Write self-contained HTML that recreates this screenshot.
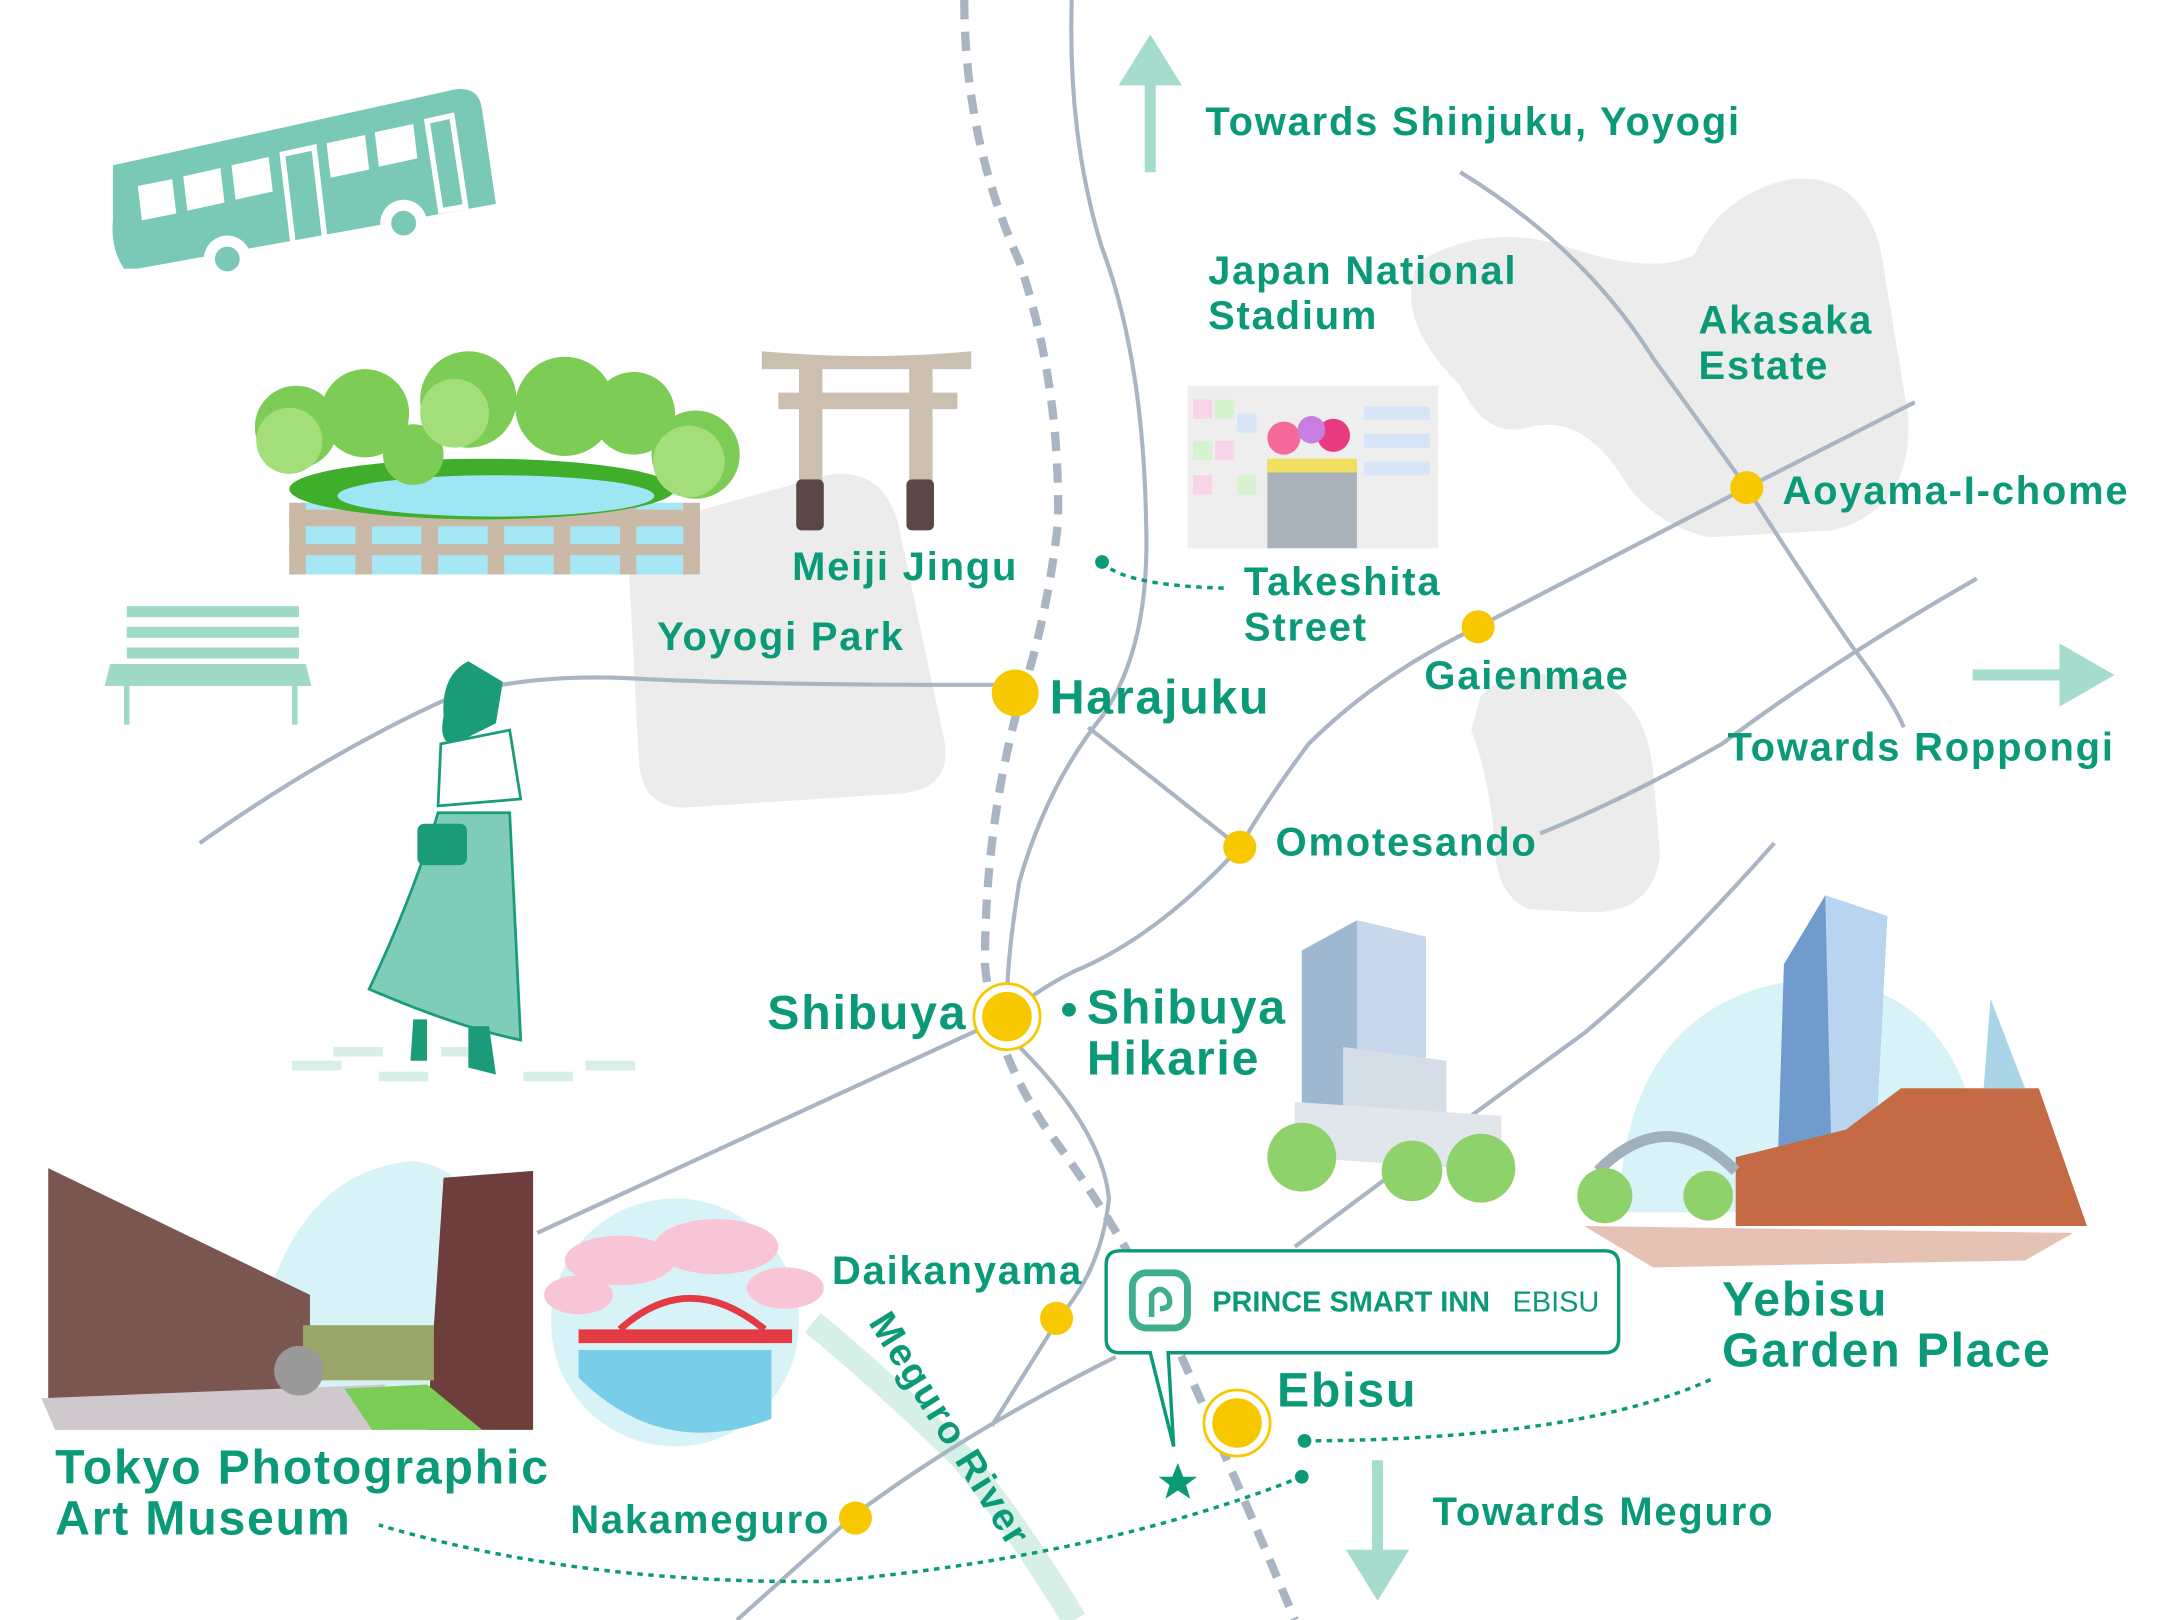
<!DOCTYPE html>
<html><head><meta charset="utf-8"><style>
html,body{margin:0;padding:0;background:#fff}
svg{display:block}
text{font-family:"Liberation Sans",sans-serif;font-weight:bold;fill:#0b9a78;letter-spacing:1.3px}
</style></head><body>
<svg width="2160" height="1620" viewBox="0 0 1568 1176" xmlns="http://www.w3.org/2000/svg">
<rect width="1568" height="1176" fill="#fff"/>
<g fill="#ececec">
<path d="M455 385 L600 345 Q640 338 652 380 L686 540 Q690 572 655 576 L500 586 Q468 588 464 556 Z"/>
<path d="M1030 190 Q1080 160 1140 180 Q1200 200 1230 185 Q1250 140 1300 130 Q1350 125 1365 180 L1385 300 Q1390 370 1330 385 L1240 390 Q1200 380 1180 350 Q1150 300 1110 310 Q1080 320 1060 280 Q1010 230 1030 190 Z"/>
<path d="M1075 505 Q1100 480 1160 495 Q1195 510 1200 560 L1205 620 Q1200 665 1150 662 L1110 660 Q1085 650 1085 610 Q1080 560 1068 530 Z"/>
</g>
<path d="M590 960 Q650 1010 700 1060 Q740 1110 780 1176" fill="none" stroke="#d6efe7" stroke-width="18"/>
<g fill="none" stroke="#aab5c4" stroke-width="3">
<path d="M778 0 Q775 100 800 180 Q830 260 832 380 Q835 470 800 520 Q760 570 740 640 Q730 700 731 738"/>
<path d="M145 612 Q240 545 330 505 Q380 490 450 492 Q560 498 737 497"/>
<path d="M790 528 L900 615"/>
<path d="M900 615 Q840 680 780 705 Q750 720 731 738"/>
<path d="M731 738 L390 895"/>
<path d="M1390 292 L1268 354 L1073 455 Q1000 490 950 540 Q920 580 900 615"/>
<path d="M1060 125 Q1150 180 1200 260 L1268 354 Q1310 420 1345 470 Q1375 510 1382 528"/>
<path d="M1118 605 Q1180 580 1250 540 Q1330 480 1435 420"/>
<path d="M1288 612 Q1210 700 1150 750 Q1040 830 940 905"/>
<path d="M740 760 Q800 820 805 870 Q800 920 770 955 L720 1035"/>
<path d="M810 985 Q700 1040 620 1100 L535 1176"/>
</g>
<path d="M700 0 Q700 100 740 190 Q770 280 768 380 Q760 450 740 510 Q715 600 715 700 Q720 760 760 820 Q820 900 860 990 Q900 1080 940 1176" fill="none" stroke="#aab5c4" stroke-width="6" stroke-dasharray="14 9"/>
<g fill="none" stroke="#0b9a78" stroke-width="2.5" stroke-dasharray="4 4">
<path d="M800 408 Q815 425 890 427"/>
<path d="M947 1046 Q1150 1045 1245 1000"/>
<path d="M945 1072 Q800 1130 600 1148 Q420 1150 275 1107"/>
</g>
<g fill="#0b9a78"><circle cx="800" cy="408" r="5"/><circle cx="947" cy="1046" r="5"/><circle cx="945" cy="1072" r="5"/><circle cx="776" cy="733" r="5"/></g>
<g fill="#f7c800">
<circle cx="737" cy="503" r="17"/>
<circle cx="900" cy="615" r="12"/><circle cx="1073" cy="455" r="12"/><circle cx="1268" cy="354" r="12"/>
<circle cx="767" cy="957" r="12"/><circle cx="621" cy="1102" r="12"/>
<circle cx="731" cy="738" r="24" fill="#fff" stroke="#f7c800" stroke-width="2"/><circle cx="731" cy="738" r="18"/>
<circle cx="898" cy="1033" r="24" fill="#fff" stroke="#f7c800" stroke-width="2"/><circle cx="898" cy="1033" r="18"/>
</g>
<g fill="#a5dccd" stroke="#a5dccd">
<line x1="835" y1="125" x2="835" y2="50" stroke-width="8"/><path d="M812 62 L835 25 L858 62 Z" stroke="none"/>
<line x1="1432" y1="490" x2="1510" y2="490" stroke-width="8"/><path d="M1495 467 L1535 490 L1495 513 Z" stroke="none"/>
<line x1="1000" y1="1060" x2="1000" y2="1140" stroke-width="8"/><path d="M977 1125 L1000 1162 L1023 1125 Z" stroke="none"/>
</g>
<path d="M813 908 H1165 Q1175 908 1175 918 V972 Q1175 982 1165 982 H848 L852 1050 L835 982 H813 Q803 982 803 972 V918 Q803 908 813 908 Z" fill="#fff" stroke="#0b9a78" stroke-width="2.5"/>
<rect x="822" y="924" width="40" height="40" rx="10" fill="none" stroke="#3fae8e" stroke-width="5"/>
<path d="M836 956 V940 Q842 932 848 940 Q852 950 842 950" fill="none" stroke="#3fae8e" stroke-width="4"/>
<text x="880" y="952" font-size="21" style="letter-spacing:0">PRINCE SMART INN</text>
<text x="1098" y="952" font-size="21" style="font-weight:normal;letter-spacing:0">EBISU</text>
<path d="M855 1062 L859 1072 L869 1072 L861 1078 L864 1088 L855 1082 L846 1088 L849 1078 L841 1072 L851 1072 Z" fill="#0b9a78"/>
<g>
<path d="M82 120 L330 65 Q348 62 350 80 L360 148 L100 195 L90 195 Q80 180 82 160 Z" fill="#79c9b6"/>
<g fill="#fff"><path d="M100 135 L125 130 L128 155 L103 160Z"/><path d="M133 128 L160 122 L163 147 L136 153Z"/><path d="M168 120 L195 114 L198 139 L171 145Z"/><path d="M237 104 L265 98 L268 123 L240 129Z"/><path d="M272 96 L300 90 L303 115 L275 121Z"/><path d="M205 112 L228 107 L236 175 L213 179Z" fill="none" stroke="#fff" stroke-width="4"/><path d="M310 88 L328 84 L338 150 L320 153Z" fill="none" stroke="#fff" stroke-width="4"/></g>
<circle cx="165" cy="188" r="17" fill="#fff"/><circle cx="165" cy="188" r="9" fill="#79c9b6"/>
<circle cx="293" cy="162" r="17" fill="#fff"/><circle cx="293" cy="162" r="9" fill="#79c9b6"/>
</g>
<g>
<rect x="210" y="365" width="298" height="52" fill="#a6e7f6"/>
<g fill="#c9b9a6"><rect x="210" y="370" width="298" height="12"/><rect x="210" y="395" width="298" height="8"/>
<rect x="210" y="365" width="12" height="52"/><rect x="258" y="365" width="12" height="52"/><rect x="306" y="365" width="12" height="52"/><rect x="354" y="365" width="12" height="52"/><rect x="402" y="365" width="12" height="52"/><rect x="450" y="365" width="12" height="52"/><rect x="496" y="365" width="12" height="52"/></g>
<ellipse cx="350" cy="355" rx="140" ry="22" fill="#3fae2b"/><ellipse cx="360" cy="360" rx="115" ry="15" fill="#9fe6f5"/>
<g fill="#7dcc55"><circle cx="215" cy="310" r="30"/><circle cx="265" cy="300" r="32"/><circle cx="340" cy="290" r="35"/><circle cx="410" cy="295" r="36"/><circle cx="460" cy="300" r="30"/><circle cx="505" cy="330" r="32"/><circle cx="300" cy="330" r="22"/></g>
<g fill="#a4de7a"><circle cx="210" cy="320" r="24"/><circle cx="500" cy="335" r="26"/><circle cx="330" cy="300" r="25"/></g>
</g>
<g><path d="M553 255 Q630 262 705 255 L705 268 L553 268 Z" fill="#cbbfb0"/><rect x="565" y="285" width="130" height="12" fill="#cbbfb0"/>
<rect x="580" y="265" width="17" height="85" fill="#cbbfb0"/><rect x="660" y="265" width="17" height="85" fill="#cbbfb0"/>
<rect x="578" y="348" width="20" height="37" rx="4" fill="#5a4746"/><rect x="658" y="348" width="20" height="37" rx="4" fill="#5a4746"/></g>
<g fill="#9fd9c8"><rect x="92" y="440" width="125" height="8"/><rect x="92" y="455" width="125" height="8"/><rect x="92" y="470" width="125" height="8"/>
<path d="M80 482 H222 L226 498 H76Z"/><rect x="90" y="498" width="4" height="28"/><rect x="212" y="498" width="4" height="28"/></g>
<g>
<g fill="#d6efe8"><rect x="212" y="770" width="36" height="7"/><rect x="242" y="760" width="36" height="7"/><rect x="275" y="778" width="36" height="7"/><rect x="380" y="778" width="36" height="7"/><rect x="425" y="770" width="36" height="7"/><rect x="320" y="760" width="36" height="7"/></g>
<path d="M340 480 Q320 490 322 520 Q318 540 330 540 L360 525 L365 495 Z" fill="#1a9c78"/>
<path d="M320 540 L370 530 L378 580 L318 585 Z" fill="#fff" stroke="#1a9c78" stroke-width="2"/>
<path d="M318 590 L370 590 L378 755 Q330 745 268 718 Q300 650 318 590Z" fill="#7fcdb9" stroke="#1a9c78" stroke-width="2"/>
<rect x="303" y="598" width="36" height="30" rx="5" fill="#1a9c78"/>
<path d="M300 740 L298 770 L310 770 L310 740 M340 745 L340 775 L360 780 L355 745" fill="#1a9c78"/>
</g>
<g><rect x="862" y="280" width="182" height="118" fill="#eeeeee"/>
<g fill="#f7d4e8"><rect x="866" y="290" width="14" height="14"/><rect x="882" y="320" width="14" height="14"/><rect x="866" y="345" width="14" height="14"/></g>
<g fill="#d6f2ce"><rect x="882" y="290" width="14" height="14"/><rect x="866" y="320" width="14" height="14"/><rect x="898" y="345" width="14" height="14"/></g>
<g fill="#d6e6f7"><rect x="898" y="300" width="14" height="14"/><rect x="990" y="295" width="48" height="10"/><rect x="990" y="315" width="48" height="10"/><rect x="990" y="335" width="48" height="10"/></g>
<rect x="920" y="335" width="65" height="63" fill="#a9b1ba"/><rect x="920" y="333" width="65" height="10" fill="#f0e060"/>
<circle cx="932" cy="318" r="12" fill="#f46a9a"/><circle cx="968" cy="316" r="12" fill="#e93a80"/><circle cx="952" cy="312" r="10" fill="#c87ee0"/></g>
<g><path d="M945 690 L985 668 L1035 680 L1035 800 L945 810Z" fill="#9fb8d2"/><path d="M985 668 L1035 680 L1035 790 L985 790Z" fill="#c7d8ec"/>
<path d="M975 760 L1050 770 L1050 840 L975 835Z" fill="#d5dde6"/><path d="M940 800 L1090 810 L1090 850 L940 840Z" fill="#e1e6ec"/>
<g fill="#8fd16a"><circle cx="945" cy="840" r="25"/><circle cx="1025" cy="850" r="22"/><circle cx="1075" cy="848" r="25"/></g></g>
<g><path d="M1175 880 Q1180 720 1320 710 Q1440 720 1440 880 Z" fill="#d8f3f8"/>
<path d="M1295 700 L1325 650 L1370 665 L1360 860 L1290 860Z" fill="#6f9ccd"/><path d="M1325 650 L1370 665 L1360 860 L1330 860Z" fill="#b9d4ef"/>
<path d="M1150 890 L1505 895 L1470 915 L1200 920Z" fill="#e6c2b4"/>
<path d="M1260 840 L1340 820 L1380 790 L1480 790 L1515 890 L1260 890Z" fill="#c46a44"/>
<path d="M1440 790 L1445 725 L1470 790Z" fill="#a9d5e6"/>
<path d="M1160 850 Q1210 800 1260 850" fill="none" stroke="#a0b0bc" stroke-width="8"/>
<g fill="#8fd16a"><circle cx="1165" cy="868" r="20"/><circle cx="1240" cy="868" r="18"/></g></g>
<g><path d="M180 1010 Q200 850 300 843 Q370 850 385 1010Z" fill="#d8f3f8"/>
<path d="M35 848 L225 940 L225 1010 L35 1015Z" fill="#7b5650"/>
<path d="M322 855 L387 850 L387 1038 L310 1038Z" fill="#6d3e3b"/>
<rect x="220" y="962" width="95" height="40" fill="#9aa66a"/>
<path d="M30 1015 L280 1005 Q260 1030 280 1038 L40 1038Z" fill="#cfc8cd"/>
<path d="M250 1008 L310 1005 L350 1038 L270 1038Z" fill="#7ccd55"/>
<circle cx="217" cy="995" r="18" fill="#999"/></g>
<g><circle cx="490" cy="960" r="90" fill="#d8f3f8"/>
<path d="M420 1000 Q480 1060 560 1030 L560 980 L420 980Z" fill="#78cde8"/>
<path d="M420 965 L575 965 L575 975 L420 975Z" fill="#e33b44"/>
<path d="M450 965 Q500 920 555 965" fill="none" stroke="#e33b44" stroke-width="5"/>
<g fill="#f8c5d6"><ellipse cx="450" cy="915" rx="40" ry="18"/><ellipse cx="520" cy="905" rx="45" ry="20"/><ellipse cx="570" cy="935" rx="28" ry="15"/><ellipse cx="420" cy="940" rx="25" ry="14"/></g></g>
<g font-size="29">
<text x="875" y="98">Towards Shinjuku, Yoyogi</text>
<text x="877" y="206">Japan National</text><text x="877" y="239">Stadium</text>
<text x="1233" y="242">Akasaka</text><text x="1233" y="275">Estate</text>
<text x="1294" y="366">Aoyama-I-chome</text>
<text x="575" y="421">Meiji Jingu</text>
<text x="903" y="432">Takeshita</text><text x="903" y="465">Street</text>
<text x="477" y="472">Yoyogi Park</text>
<text x="1034" y="500">Gaienmae</text>
<text x="1254" y="552">Towards Roppongi</text>
<text x="926" y="621">Omotesando</text>
<text x="604" y="932">Daikanyama</text>
<text x="1040" y="1107">Towards Meguro</text>
<text x="414" y="1113">Nakameguro</text>
</g>
<g font-size="35">
<text x="762" y="518">Harajuku</text>
<text x="557" y="747">Shibuya</text>
<text x="789" y="743">Shibuya</text><text x="789" y="780">Hikarie</text>
<text x="927" y="1021">Ebisu</text>
<text x="1250" y="955">Yebisu</text><text x="1250" y="992">Garden Place</text>
<text x="40" y="1077">Tokyo Photographic</text><text x="40" y="1114">Art Museum</text>
</g>
<text x="0" y="0" font-size="28" transform="translate(630,960) rotate(58)">Meguro River</text>
</svg>
</body></html>
